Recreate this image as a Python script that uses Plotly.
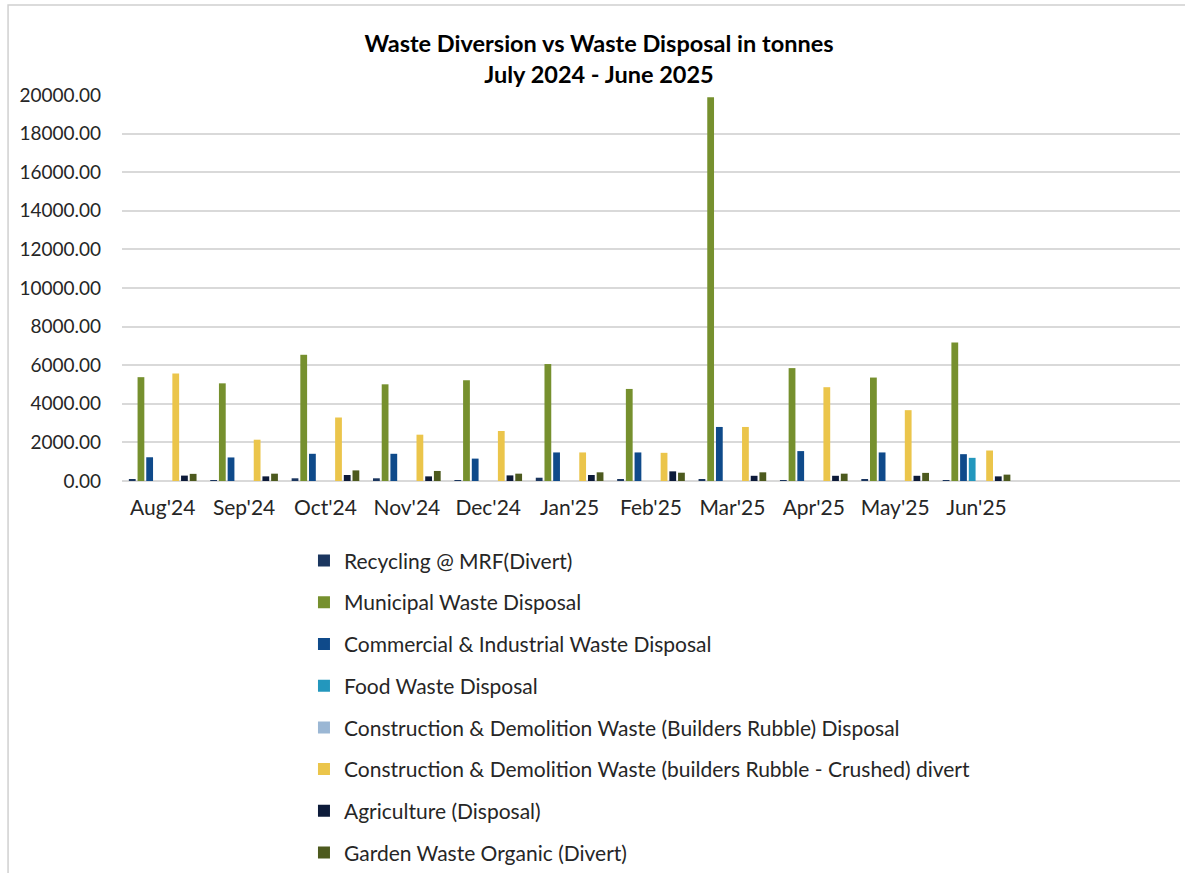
import plotly.graph_objects as go

months = ["Aug'24", "Sep'24", "Oct'24", "Nov'24", "Dec'24", "Jan'25",
          "Feb'25", "Mar'25", "Apr'25", "May'25", "Jun'25"]

recycling_mrf = [80, 50, 140, 140, 50, 170, 90, 90, 50, 80, 50]
municipal = [5380, 5060, 6540, 5010, 5220, 6060, 4770, 19880, 5850, 5360, 7170]
commercial_industrial = [1230, 1220, 1410, 1410, 1160, 1480, 1480, 2800, 1550, 1480, 1390]
food_waste = [0, 0, 0, 0, 0, 0, 0, 0, 0, 0, 1200]
cd_disposal = [0, 0, 0, 0, 0, 0, 0, 0, 0, 0, 0]
cd_crushed = [5570, 2140, 3290, 2400, 2590, 1480, 1460, 2800, 4860, 3670, 1580]
agriculture = [280, 240, 310, 240, 290, 310, 500, 270, 270, 270, 240]
garden_organic = [370, 380, 550, 520, 380, 450, 430, 450, 380, 420, 330]

series = [
    ("Recycling @ MRF(Divert)", recycling_mrf, "#1b365f"),
    ("Municipal Waste Disposal", municipal, "#76902e"),
    ("Commercial & Industrial Waste Disposal", commercial_industrial, "#0f4a8a"),
    ("Food Waste Disposal", food_waste, "#2397bd"),
    ("Construction & Demolition Waste (Builders Rubble) Disposal", cd_disposal, "#9bb7d4"),
    ("Construction & Demolition Waste (builders Rubble - Crushed) divert", cd_crushed, "#ebc54b"),
    ("Agriculture (Disposal)", agriculture, "#0d1b3a"),
    ("Garden Waste Organic (Divert)", garden_organic, "#4d5a1e"),
]

FONT = "Lato, 'Open Sans', sans-serif"

fig = go.Figure()
for i, (name, vals, color) in enumerate(series):
    fig.add_trace(go.Bar(x=months, y=vals, name=name, marker_color=color,
                         marker_line_width=0, legendgroup=f"g{i}"))

fig.update_layout(
    width=1185, height=873,
    margin=dict(l=122, r=5, t=95, b=392, autoexpand=False),
    paper_bgcolor="white", plot_bgcolor="white",
    barmode="group", bargap=0.145, bargroupgap=0.22,
    font=dict(family=FONT, size=19, color="#262626"),
    title=dict(text="<b>Waste Diversion vs Waste Disposal in tonnes</b><br><b>July 2024 - June 2025</b>",
               x=599 / 1185, xref="container", xanchor="center",
               y=1 - 52 / 873, yref="container", yanchor="top",
               font=dict(family=FONT, size=23.5, color="#000000")),
    showlegend=True,
    legend=dict(orientation="v", x=0.172, xanchor="left", y=-0.154, yanchor="top",
                font=dict(family=FONT, size=21, color="#262626"),
                tracegroupgap=11.4, itemwidth=30, traceorder="grouped",
                bgcolor="rgba(0,0,0,0)"),
    xaxis=dict(type="category", range=[-0.5, 12.5], showgrid=False, automargin=False,
               ticks="", showline=False, ticklabelstandoff=12,
               tickfont=dict(size=21, color="#262626")),
    yaxis=dict(range=[0, 20000], dtick=2000, tickformat=".2f", automargin=False,
               showgrid=True, gridcolor="#d9d9d9", gridwidth=1.5,
               zeroline=True, zerolinecolor="#d9d9d9", zerolinewidth=1.5,
               ticks="", showline=False, ticklabelstandoff=20,
               tickfont=dict(size=19, color="#262626")),
)

fig.add_shape(type="rect", xref="paper", yref="paper",
              x0=-0.1077, x1=1.2, y0=-2.0, y1=1.233,
              line=dict(color="#d0d0d0", width=1.5), fillcolor="rgba(0,0,0,0)",
              layer="below")

fig.write_html("out.html")
